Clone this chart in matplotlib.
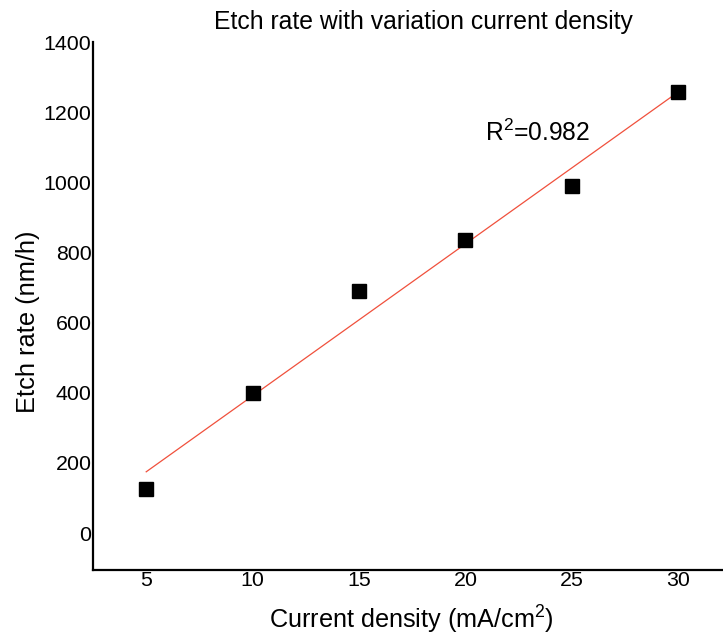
import numpy as np
import matplotlib
matplotlib.use("Agg")
import matplotlib.pyplot as plt

plt.rcParams['font.family'] = ['Liberation Sans', 'DejaVu Sans']
plt.rcParams['mathtext.fontset'] = 'custom'
plt.rcParams['mathtext.rm'] = 'Liberation Sans'
plt.rcParams['mathtext.it'] = 'Liberation Sans:italic'
plt.rcParams['mathtext.default'] = 'regular'

current_density = [5, 10, 15, 20, 25, 30]
etch_rate = [125, 400, 690, 835, 990, 1258]
r2_label = "R$^2$=0.982"

fig = plt.figure(figsize=(7.23, 6.37), dpi=100)
ax = fig.add_axes([93/723, 67/637, 1 - 93/723, (570-42)/637])

slope, intercept = np.polyfit(current_density, etch_rate, 1)
xf = np.array([current_density[0], current_density[-1]])
ax.plot(xf, slope*xf + intercept, color='#f0503c', lw=0.9, zorder=2)
ax.plot(current_density, etch_rate, 's', color='black', ms=9.5, zorder=3)

ax.set_xlim(2.5, 32.1)
ax.set_ylim(-105, 1400)
ax.set_xticks([5, 10, 15, 20, 25, 30])
ax.set_yticks(range(0, 1401, 200))
ax.tick_params(length=0, labelsize=15.4, pad=1)
for s in ['top', 'right']:
    ax.spines[s].set_visible(False)
for s in ['left', 'bottom']:
    ax.spines[s].set_linewidth(1.6)

title = ax.set_title("Etch rate with variation current density", fontsize=17.8, pad=9)
title.set_x(0.524)
ax.set_xlabel("Current density (mA/cm$^2$)", fontsize=18.2, labelpad=10)
ax.xaxis.label.set_x(0.506)
ax.set_ylabel("Etch rate (nm/h)", fontsize=18.3, labelpad=3)
ax.yaxis.label.set_y(0.47)
ax.text(20.9, 1140, r2_label, fontsize=17.7, ha='left', va='center')

fig.savefig("out.png", dpi=100)
